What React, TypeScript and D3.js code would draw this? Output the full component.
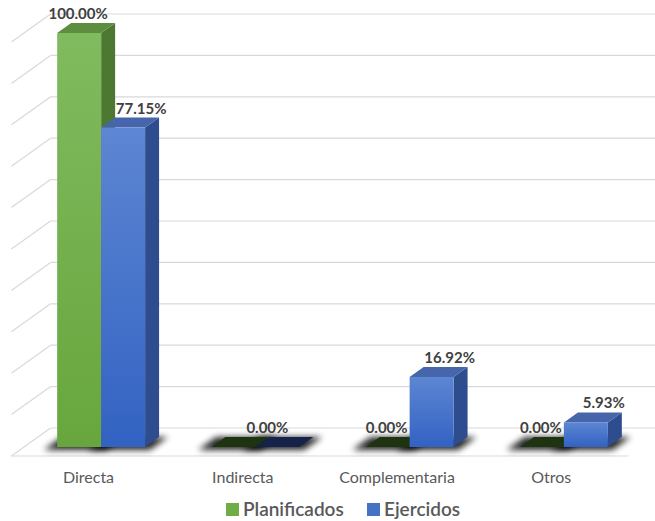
import React from "react";
import * as d3 from "d3";

const categories = ["Directa", "Indirecta", "Complementaria", "Otros"];
const seriesNames = ["Planificados", "Ejercidos"];
const planificados = [100, 0, 0, 0];
const ejercidos = [77.15, 0, 16.92, 5.93];
const gridTicks = [0, 10, 20, 30, 40, 50, 60, 70, 80, 90, 100];

const W = 655;
const H = 521;

const palette = {
  Planificados: { top: "#5d8e3f", side: "#4d7832", g1: "#80bb5f", g2: "#68a63d", zero: "#1e3411", legend: "#70ad47" },
  Ejercidos: { top: "#4665aa", side: "#2e4d8e", g1: "#5d86d3", g2: "#3262c2", zero: "#15234a", legend: "#4472c4" },
};

const K = 1.4; // depth projection: dx = K*d, dy = -d
const proj = (px: number, py: number, d: number): [number, number] => [px + K * d, py - d];
const DF = -9, DB = 10, DW = 19;

export default function App() {
  const x = d3.scaleBand<string>().domain(categories).range([24, 641]).paddingInner(0.43).paddingOuter(0.215);
  const xs = d3.scaleBand<string>().domain(seriesNames).range([0, x.bandwidth()]);
  const y = d3.scaleLinear().domain([0, 100]).range([447, 33]);
  const bw = xs.bandwidth();
  const [x0, x1] = x.range();
  const pts = (a: [number, number][]) => a.map((p) => p.join(",")).join(" ");
  const values: Record<string, number[]> = { Planificados: planificados, Ejercidos: ejercidos };
  const labelDx: Record<string, number> = { Planificados: -1, Ejercidos: 18 };

  const wallL = proj(x0, 0, DW)[0];
  const wallR = proj(x1, 0, DW)[0];
  const floorFrontL = proj(x0, y(0), DF);
  const floorFrontR = proj(x1, y(0), DF);

  const bars: JSX.Element[] = [];
  const shadows: JSX.Element[] = [];
  const labels: JSX.Element[] = [];
  categories.forEach((c, ci) => {
    const allZero = seriesNames.every((s) => values[s][ci] === 0);
    seriesNames.forEach((s) => {
      const v = values[s][ci];
      const col = (palette as any)[s];
      const bx = (x(c) as number) + (xs(s) as number);
      const base = y(0);
      const top = y(v);
      // shadow footprint
      const sh: [number, number][] = [
        proj(bx - 12, base + 2, -1),
        proj(bx + bw + 6, base + 2, -1),
        proj(bx + bw + 6, base + 2, DB + 2),
        proj(bx - 12, base + 2, DB + 2),
      ];
      shadows.push(<polygon key={`sh${ci}${s}`} points={pts(sh)} fill="#000" opacity={0.85} filter="url(#blur)" />);
      const topFace: [number, number][] = [
        [bx, top],
        [bx + bw, top],
        proj(bx + bw, top, DB),
        proj(bx, top, DB),
      ];
      if (v === 0) {
        bars.push(<polygon key={`z${ci}${s}`} points={pts(topFace)} fill={col.zero} />);
      } else {
        const side: [number, number][] = [
          [bx + bw, top],
          proj(bx + bw, top, DB),
          proj(bx + bw, base, DB),
          [bx + bw, base],
        ];
        bars.push(
          <g key={`b${ci}${s}`}>
            <polygon points={pts(side)} fill={col.side} />
            <polygon points={pts(topFace)} fill={col.top} />
            <rect x={bx} y={top} width={bw} height={base - top} fill={`url(#grad${s})`} />
          </g>
        );
      }
      if (!(allZero && s === "Planificados")) {
        const lx = allZero ? (x(c) as number) + x.bandwidth() / 2 + K * DB / 2 + 5 : bx + bw / 2 + labelDx[s];
        labels.push(
          <text key={`l${ci}${s}`} x={lx} y={top - DB - 4} textAnchor="middle" fontFamily="Lato, 'Open Sans', sans-serif" fontWeight={700} fontSize={15} fill="#404040">
            {v.toFixed(2) + "%"}
          </text>
        );
      }
    });
  });

  return (
    <svg width={W} height={H} style={{ position: "absolute", left: 0, top: 0, background: "#fff" }}>
      <defs>
        <filter id="blur" x="-50%" y="-200%" width="200%" height="500%">
          <feGaussianBlur stdDeviation="3" />
        </filter>
        {seriesNames.map((s) => (
          <linearGradient key={s} id={`grad${s}`} x1="0" y1="0" x2="0" y2="1">
            <stop offset="0" stopColor={(palette as any)[s].g1} />
            <stop offset="1" stopColor={(palette as any)[s].g2} />
          </linearGradient>
        ))}
      </defs>
      <rect width={W} height={H} fill="#fff" />
      {gridTicks.map((t) => {
        const gy = y(t);
        const a = proj(x0, gy, DF);
        const b = proj(x0, gy, DW);
        return (
          <g key={`g${t}`} stroke="#d9d9d9" strokeWidth={1.2} fill="none">
            <line x1={wallL} x2={wallR} y1={b[1]} y2={b[1]} />
            <line x1={a[0]} y1={a[1]} x2={b[0]} y2={b[1]} />
          </g>
        );
      })}
      <line x1={floorFrontL[0]} y1={floorFrontL[1]} x2={floorFrontR[0]} y2={floorFrontR[1]} stroke="#d9d9d9" strokeWidth={1.2} />
      {shadows}
      {bars}
      {labels}
      {categories.map((c) => (
        <text key={`c${c}`} x={(x(c) as number) + x.bandwidth() / 2 + K * DF} y={floorFrontL[1] + 27} textAnchor="middle" fontFamily="Lato, 'Open Sans', sans-serif" fontSize={16} fill="#595959">
          {c}
        </text>
      ))}
      <g fontFamily="Lato, 'Open Sans', sans-serif" fontSize={19} fill="#595959" fontWeight={600}>
        <rect x={226} y={503} width={13} height={13} fill={palette.Planificados.legend} />
        <text x={243} y={516}>Planificados</text>
        <rect x={367} y={503} width={13} height={13} fill={palette.Ejercidos.legend} />
        <text x={384} y={516}>Ejercidos</text>
      </g>
    </svg>
  );
}
